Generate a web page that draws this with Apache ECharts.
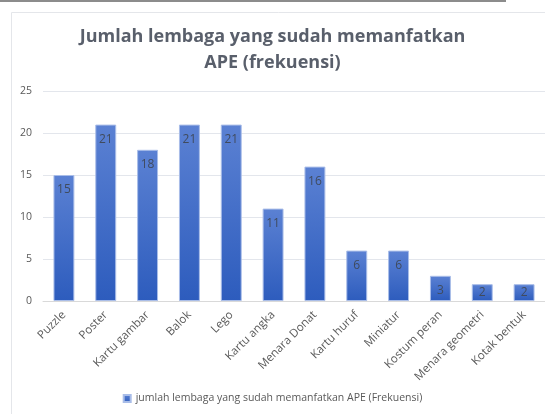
<!DOCTYPE html>
<html>
<head>
<meta charset="utf-8">
<script src="https://cdn.jsdelivr.net/npm/echarts@6/dist/echarts.min.js"></script>
<style>
html,body{margin:0;padding:0;background:#fff;}
#c{width:545px;height:414px;}
</style>
</head>
<body>
<div id="c"></div>
<script>
const categories = ["Puzzle","Poster","Kartu gambar","Balok","Lego","Kartu angka","Menara Donat","Kartu huruf","Miniatur","Kostum peran","Menara geometri","Kotak bentuk"];
const values = [15,21,18,21,21,11,16,6,6,3,2,2];
const yTicks = [0,5,10,15,20,25];
const titleText = "Jumlah lembaga yang sudah memanfatkan\nAPE (frekuensi)";
const seriesName = "jumlah lembaga yang sudah memanfatkan APE (Frekuensi)";

// short bars: label centred inside (label doesn't fit at the top)
const barData = values.map(v => v < 3 ? {value: v, label: {position: 'inside'}} : v);

const chart = echarts.init(document.getElementById('c'), null, {renderer:'canvas'});
chart.setOption({
  animation:false,
  backgroundColor:'#fff',
  graphic:[
    {type:'rect', shape:{x:0,y:0,width:506,height:2}, style:{fill:'#8c8c8c'}, silent:true},
    {type:'line', shape:{x1:11.5,y1:12.5,x2:545,y2:12.5}, style:{stroke:'#e4e6ea',lineWidth:1}, silent:true},
    {type:'line', shape:{x1:11.5,y1:12.5,x2:11.5,y2:414}, style:{stroke:'#e4e6ea',lineWidth:1}, silent:true}
  ],
  title:{
    text:titleText,
    left:'center',
    top:19,
    textStyle:{fontFamily:'Open Sans',fontWeight:'bold',fontSize:18,color:'#595f6b',lineHeight:26}
  },
  legend:{
    bottom:5,
    left:'center',
    itemWidth:7,
    itemHeight:7,
    itemGap:3,
    icon:'rect',
    textStyle:{fontFamily:'Open Sans',fontSize:10.5,color:'#595959'},
    data:[seriesName]
  },
  grid:{left:43,right:0,top:91,bottom:113,containLabel:false},
  xAxis:{
    type:'category',
    data:categories,
    axisLine:{lineStyle:{color:'#d9d9d9'}},
    axisTick:{show:false},
    axisLabel:{rotate:45,interval:0,fontFamily:'Open Sans',fontSize:11.5,color:'#595959',margin:12}
  },
  yAxis:{
    type:'value',
    min:yTicks[0],
    max:yTicks[yTicks.length-1],
    interval:5,
    axisLine:{show:false},
    axisTick:{show:false},
    axisLabel:{fontFamily:'Open Sans',fontSize:10.5,color:'#595959',margin:11},
    splitLine:{lineStyle:{color:'#e3e6ec'}}
  },
  series:[{
    name:seriesName,
    type:'bar',
    data:barData,
    barCategoryGap:'50%',
    itemStyle:{
      color:new echarts.graphic.LinearGradient(0,0,0,1,[
        {offset:0,color:'#5b81d3'},
        {offset:1,color:'#2d5cbd'}
      ]),
      borderColor:'#a9bde8',
      borderWidth:1
    },
    label:{
      show:true,
      position:'insideTop',
      distance:9,
      fontFamily:'Open Sans',
      fontSize:12,
      color:'#404b5e'
    }
  }]
});
</script>
</body>
</html>
